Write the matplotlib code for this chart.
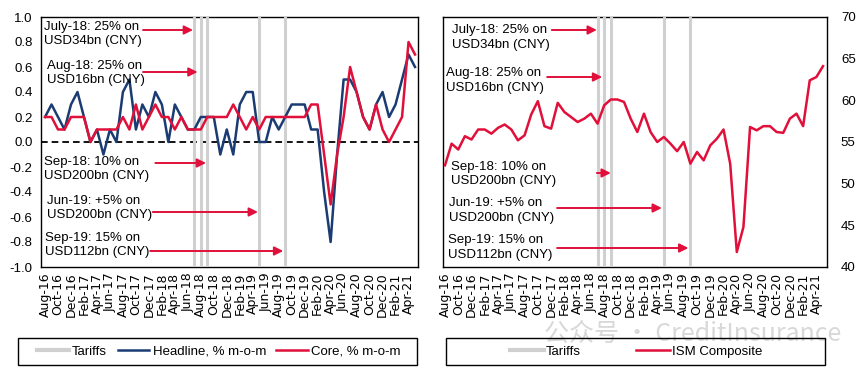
import matplotlib
matplotlib.use("Agg")
import matplotlib.pyplot as plt
from matplotlib.lines import Line2D
from matplotlib.patches import Rectangle

plt.rcParams['font.family'] = ['Liberation Sans', 'DejaVu Sans']
plt.rcParams['axes.unicode_minus'] = False

# months Aug-16 .. May-21, labels every 2nd month
tick_labels = ["Aug-16", "Oct-16", "Dec-16", "Feb-17", "Apr-17", "Jun-17", "Aug-17",
               "Oct-17", "Dec-17", "Feb-18", "Apr-18", "Jun-18", "Aug-18", "Oct-18",
               "Dec-18", "Feb-19", "Apr-19", "Jun-19", "Aug-19", "Oct-19", "Dec-19",
               "Feb-20", "Apr-20", "Jun-20", "Aug-20", "Oct-20", "Dec-20", "Feb-21",
               "Apr-21"]
n_months = 58

headline = [0.2, 0.3, 0.2, 0.1, 0.3, 0.4, 0.2, 0.0, 0.1, -0.1,
            0.1, 0.0, 0.4, 0.5, 0.1, 0.3, 0.2, 0.4, 0.3, 0.0,
            0.3, 0.2, 0.1, 0.1, 0.2, 0.2, 0.2, -0.1, 0.1, -0.1,
            0.3, 0.4, 0.4, 0.0, 0.0, 0.2, 0.1, 0.2, 0.3, 0.3,
            0.3, 0.1, 0.1, -0.4, -0.8, -0.1, 0.5, 0.5, 0.4, 0.2,
            0.1, 0.3, 0.4, 0.2, 0.3, 0.5, 0.7, 0.6]

core = [0.2, 0.2, 0.1, 0.1, 0.2, 0.2, 0.2, 0.0, 0.1, 0.1,
        0.1, 0.1, 0.2, 0.1, 0.3, 0.1, 0.2, 0.3, 0.2, 0.2,
        0.1, 0.2, 0.1, 0.1, 0.1, 0.2, 0.2, 0.2, 0.2, 0.3,
        0.2, 0.1, 0.2, 0.1, 0.2, 0.2, 0.2, 0.2, 0.2, 0.2,
        0.2, 0.3, 0.3, -0.1, -0.5, -0.1, 0.2, 0.6, 0.4, 0.2,
        0.1, 0.3, 0.1, 0.0, 0.1, 0.2, 0.8, 0.7]

ism = [52.2, 54.8, 54.1, 55.7, 55.3, 56.5, 56.5, 56.0, 56.7, 57.1,
       56.5, 55.2, 55.8, 58.3, 59.9, 56.9, 56.6, 59.7, 58.6, 58.0,
       57.4, 57.8, 58.4, 57.2, 59.4, 60.1, 60.1, 59.8, 57.8, 56.2,
       58.4, 56.2, 55.0, 55.6, 54.8, 53.9, 55.0, 52.4, 53.8, 52.8,
       54.6, 55.4, 56.5, 52.4, 41.8, 44.8, 56.8, 56.4, 56.9, 56.9,
       56.2, 56.1, 57.8, 58.4, 56.9, 62.4, 62.8, 64.1]

# tariff months (index from Aug-16)
tariff_idx = [23, 24, 25, 33, 37]
notes = ["July-18: 25% on\nUSD34bn (CNY)",
         "Aug-18: 25% on\nUSD16bn (CNY)",
         "Sep-18: 10% on\nUSD200bn (CNY)",
         "Jun-19: +5% on\nUSD200bn (CNY)",
         "Sep-19: 15% on\nUSD112bn (CNY)"]

navy = "#1B3C73"
red = "#E0103A"
grey = "#D0D0D0"

W, H = 865, 373
fig = plt.figure(figsize=(W / 100, H / 100), dpi=100)
ax1 = fig.add_axes([41 / W, 1 - 267 / H, 377 / W, 250 / H])
ax2 = fig.add_axes([443 / W, 1 - 267 / H, 384 / W, 250 / H])

x = list(range(n_months))
ticks = list(range(0, n_months, 2))

for ax in (ax1, ax2):
    for t in tariff_idx:
        ax.axvline(t, color=grey, lw=2.2, zorder=2.6)
    for s in ax.spines.values():
        s.set_linewidth(1.0)
        s.set_color("black")
    ax.set_xticks(ticks)
    ax.set_xticklabels(tick_labels, rotation=90, fontsize=9,
                       family=['DejaVu Sans'])
    ax.tick_params(axis='x', length=0, pad=4)
    ax.tick_params(axis='y', length=0, labelsize=9.5)

# left panel
ax1.axhline(0, color="black", lw=1.3, ls=(0, (3.7, 2.2)), zorder=2)
ax1.plot(x, headline, color=navy, lw=1.8, zorder=3)
ax1.plot(x, core, color=red, lw=1.8, zorder=4)
ax1.set_xlim(-0.62, 57.46)
ax1.set_ylim(-1.0, 1.0)
ax1.set_yticks([i / 10 for i in range(-10, 11, 2)])
ax1.set_yticklabels(["%.1f" % (i / 10) for i in range(-10, 11, 2)])
ax1.tick_params(axis='y', pad=6)

# right panel
ax2.plot(x, ism, color=red, lw=1.8, zorder=4)
ax2.set_xlim(-0.3, 57.6)
ax2.set_ylim(40, 70)
ax2.set_yticks(range(40, 71, 5))
ax2.yaxis.tick_right()
ax2.tick_params(axis='y', pad=10)

# annotations: (text x, text top, arrow start, arrow tip, arrow y) in axes frac / data
left_notes = [(0.008, 0.985, 15.1, 22.8, 0.948),
              (0.016, 0.83, 15.1, 23.5, 0.78),
              (0.008, 0.445, 17.0, 24.8, 0.416),
              (0.016, 0.29, 16.6, 32.8, 0.22),
              (0.011, 0.142, 16.2, 36.7, 0.064)]
right_notes = [(0.023, 0.972, 16.1, 22.9, 0.948),
               (0.008, 0.8, 15.4, 23.7, 0.76),
               (0.021, 0.425, 22.9, 25.0, 0.376),
               (0.016, 0.28, 16.9, 32.7, 0.236),
               (0.013, 0.132, 16.9, 36.7, 0.076)]

for ax, pos in ((ax1, left_notes), (ax2, right_notes)):
    for txt, (tx, ty, a0, a1, ay) in zip(notes, pos):
        ax.text(tx, ty, txt, transform=ax.transAxes, fontsize=9.5,
                va='top', ha='left', linespacing=1.3, zorder=5)
        ax.annotate('', xy=(a1, ay), xycoords=('data', 'axes fraction'),
                    xytext=(a0, ay), textcoords=('data', 'axes fraction'),
                    arrowprops=dict(arrowstyle='-|>', color=red, lw=1.4,
                                    mutation_scale=13, shrinkA=0, shrinkB=0),
                    zorder=5)

# legend frames
fig.patches.append(Rectangle((18 / W, 1 - 365 / H), 399 / W, 27 / H,
                             transform=fig.transFigure, fill=False,
                             edgecolor="black", lw=1.0))
fig.patches.append(Rectangle((446 / W, 1 - 365 / H), 379 / W, 27 / H,
                             transform=fig.transFigure, fill=False,
                             edgecolor="black", lw=1.0))

# watermark
fig.text(693 / W, 1 - 334 / H, "公众号 · CreditInsurance", fontsize=18,
         color="#C8C8C8", alpha=0.7, ha='center', va='center',
         family=['Noto Sans CJK SC', 'DejaVu Sans'], zorder=0)

h_tar = Line2D([], [], color=grey, lw=3)
h_head = Line2D([], [], color=navy, lw=1.8)
h_core = Line2D([], [], color=red, lw=1.8)
fig.legend([h_tar, h_head, h_core], ["Tariffs", "Headline, % m-o-m", "Core, % m-o-m"],
           loc='center', bbox_to_anchor=(219 / W, 1 - 351.5 / H), ncol=3,
           frameon=False, fontsize=9.5, handlelength=2.4, handletextpad=0.25,
           columnspacing=0.8)
fig.legend([h_tar, h_core], ["Tariffs", "ISM Composite"],
           loc='center', bbox_to_anchor=(636 / W, 1 - 351.5 / H), ncol=2,
           frameon=False, fontsize=9.5, handlelength=2.6, handletextpad=0.1,
           columnspacing=4.2)

fig.savefig("out.png", dpi=100)
